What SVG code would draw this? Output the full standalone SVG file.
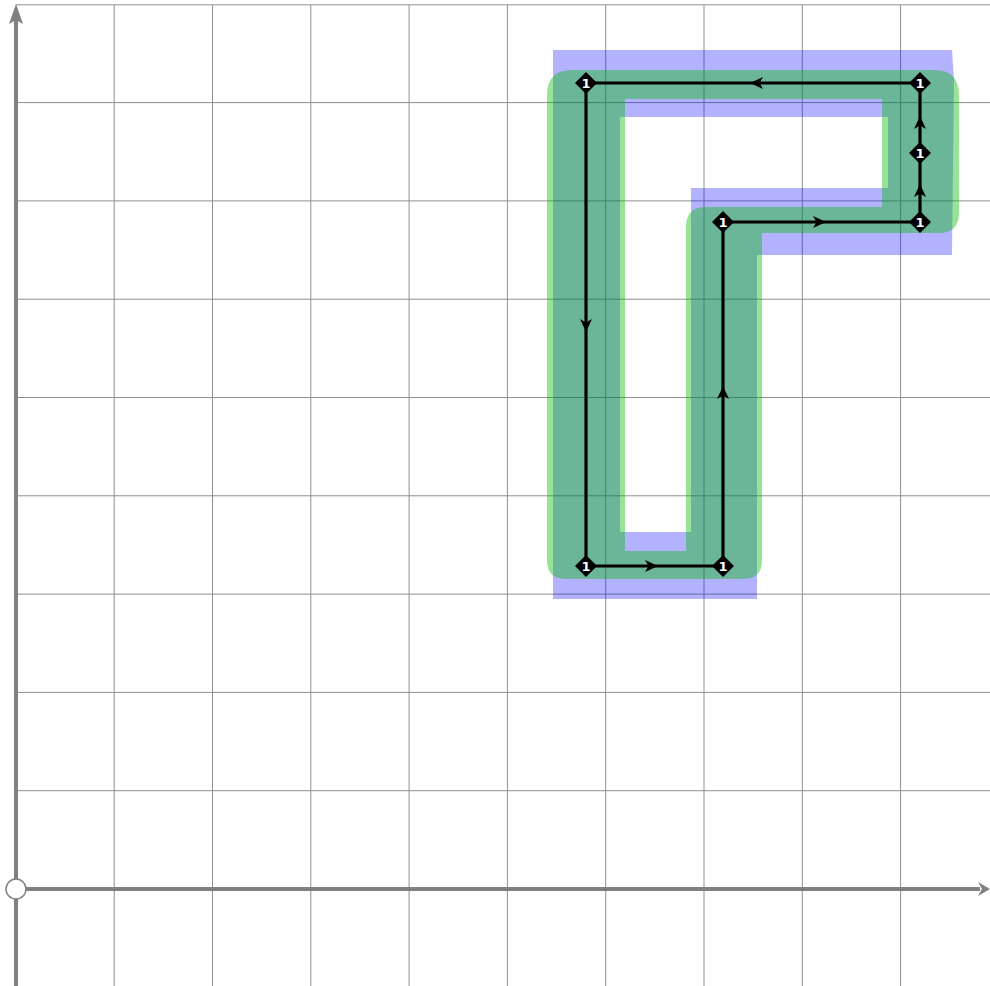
<svg xmlns="http://www.w3.org/2000/svg" width="990" height="986" viewBox="0 0 990 986">
<style>
.grid{stroke:#8f8f8f;stroke-width:1;fill:none}
.axis{stroke:#808080;stroke-width:4;fill:none}
.axhead{fill:#808080}
.edge{stroke:#000;stroke-width:3.2;fill:none;marker-mid:url(#arr)}
.node polygon{fill:#000}
.node text{fill:#fff;font-family:"DejaVu Sans",sans-serif;font-weight:bold;font-size:13px;text-anchor:middle;dominant-baseline:central}
</style>
<defs>
<marker id="arr" markerUnits="userSpaceOnUse" markerWidth="20" markerHeight="20" viewBox="-10 -10 20 20" refX="0" refY="0" orient="auto">
<path d="M-7,-6 L6,0 L-7,6 L-3.5,0 Z" fill="#000"/>
</marker>
</defs>
<rect width="990" height="986" fill="#fff"/>
<g id="grid">
<path class="grid" d="M114.2,5V986M212.5,5V986M310.8,5V986M409.1,5V986M507.4,5V986M605.7,5V986M704,5V986M802.3,5V986M900.6,5V986"/>
<path class="grid" d="M16,4.8H990M16,102.6H990M16,200.9H990M16,299.2H990M16,397.5H990M16,495.8H990M16,594.1H990M16,692.4H990M16,790.7H990"/>
</g>
<g id="regions">
<path id="blue-region" d="M553,50 L952,50 L954,80 L952,255 L757,255 L757,599 L553,599 Z M620,117 L888,117 L888,188 L691,188 L691,532 L620,532 Z" fill="#0000ff" fill-opacity="0.3" fill-rule="evenodd"/>
<path id="green-region" d="M572,70 L934,70 Q959,70 959,95 L959,213 Q959,233 939,233 L762,233 L762,561 Q762,579 742,579 L567,579 Q547,579 547,561 L547,95 Q547,70 572,70 Z M625,99 L882,99 L882,207 L706,207 Q686,207 686,227 L686,551 L625,551 Z" fill="#00b800" fill-opacity="0.4" fill-rule="evenodd"/>
</g>
<g id="axes">
<line class="axis" x1="16" y1="986" x2="16" y2="18"/>
<path class="axhead" d="M16,4 L23,24 L16,20 L9,24 Z"/>
<line class="axis" x1="16" y1="889" x2="980" y2="889"/>
<path class="axhead" d="M990,889 L978,882 L982,889 L978,896 Z"/>
<circle id="origin" cx="16" cy="889" r="10" fill="#fff" stroke="#808080" stroke-width="1.5"/>
</g>
<g id="connectors">
<path class="edge" d="M586,83 L586,326 L586,566"/>
<path class="edge" d="M586,566 L652,566 L723,566"/>
<path class="edge" d="M723,566 L723,392 L723,222"/>
<path class="edge" d="M723,222 L820,222 L920,222"/>
<path class="edge" d="M920,222 L920,190 L920,153"/>
<path class="edge" d="M920,153 L920,122 L920,83"/>
<path class="edge" d="M920,83 L756,83 L586,83"/>
</g>
<g id="n1" class="node"><polygon points="586,72 597,83 586,94 575,83"/><text x="586" y="83">1</text></g>
<g id="n2" class="node"><polygon points="586,555 597,566 586,577 575,566"/><text x="586" y="566">1</text></g>
<g id="n3" class="node"><polygon points="723,555 734,566 723,577 712,566"/><text x="723" y="566">1</text></g>
<g id="n4" class="node"><polygon points="723,211 734,222 723,233 712,222"/><text x="723" y="222">1</text></g>
<g id="n5" class="node"><polygon points="920,211 931,222 920,233 909,222"/><text x="920" y="222">1</text></g>
<g id="n6" class="node"><polygon points="920,142 931,153 920,164 909,153"/><text x="920" y="153">1</text></g>
<g id="n7" class="node"><polygon points="920,72 931,83 920,94 909,83"/><text x="920" y="83">1</text></g>
</svg>
